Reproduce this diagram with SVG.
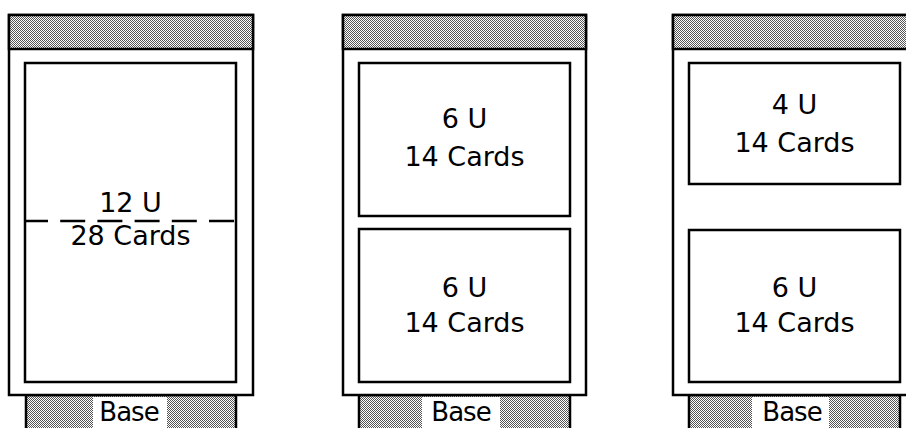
<svg xmlns="http://www.w3.org/2000/svg" width="906" height="428" viewBox="0 0 906 428">
  <defs>
    <!-- fine dither used for the top band and the base feet -->
    <pattern id="dither" width="2" height="2" patternUnits="userSpaceOnUse">
      <rect width="2" height="2" fill="#ffffff"/>
      <rect x="0" y="0" width="1" height="1" fill="#555555"/>
      <rect x="1" y="1" width="1" height="1" fill="#555555"/>
    </pattern>
  </defs>
  <style>
    .frame { fill: #ffffff; stroke: #000000; stroke-width: 2.5; }
    .band { fill: url(#dither); stroke: #000000; stroke-width: 2.5; }
    .slot { fill: #ffffff; stroke: #000000; stroke-width: 2.5; }
    .foot { fill: url(#dither); stroke: #000000; stroke-width: 2.5; }
    .gap { fill: #ffffff; }
    .lbl { font-family: "DejaVu Sans", Verdana, sans-serif; font-size: 27px; fill: #000000; text-anchor: middle; }
    .base { font-family: "DejaVu Sans", Verdana, sans-serif; font-size: 26px; fill: #000000; text-anchor: middle; letter-spacing: -1px; }
    .split { stroke: #000000; stroke-width: 2.5; fill: none; stroke-dasharray: 25 12.2; stroke-dashoffset: 2; }
  </style>

  <!-- Chassis A: one full-height slot -->
  <g id="chassis-a">
    <rect class="foot" x="26" y="395" width="210" height="40"/>
    <rect class="gap" x="93" y="397" width="74" height="31"/>
    <text class="base" x="129" y="421">Base</text>
    <rect class="frame" x="9" y="15" width="244" height="380"/>
    <rect class="band" x="9" y="15" width="244" height="34"/>
    <rect class="slot" x="25" y="63" width="211" height="319"/>
    <line class="split" x1="25" y1="221" x2="236" y2="221"/>
    <text class="lbl" x="130.5" y="212">12 U</text>
    <text class="lbl" x="130.5" y="245">28 Cards</text>
  </g>

  <!-- Chassis B: two equal slots -->
  <g id="chassis-b">
    <rect class="foot" x="359" y="395" width="211" height="40"/>
    <rect class="gap" x="422" y="397" width="78" height="31"/>
    <text class="base" x="461" y="421">Base</text>
    <rect class="frame" x="343" y="15" width="243" height="380"/>
    <rect class="band" x="343" y="15" width="243" height="34"/>
    <rect class="slot" x="359" y="63" width="211" height="153"/>
    <text class="lbl" x="464.5" y="128">6 U</text>
    <text class="lbl" x="464.5" y="166">14 Cards</text>
    <rect class="slot" x="359" y="229" width="211" height="153"/>
    <text class="lbl" x="464.5" y="297">6 U</text>
    <text class="lbl" x="464.5" y="332">14 Cards</text>
  </g>

  <!-- Chassis C: short upper slot, taller lower slot -->
  <g id="chassis-c">
    <rect class="foot" x="689" y="395" width="211" height="40"/>
    <rect class="gap" x="752" y="397" width="77" height="31"/>
    <text class="base" x="792" y="421">Base</text>
    <rect class="frame" x="673" y="15" width="244" height="380"/>
    <rect class="band" x="673" y="15" width="244" height="34"/>
    <rect class="slot" x="689" y="63" width="211" height="121"/>
    <text class="lbl" x="794.5" y="114">4 U</text>
    <text class="lbl" x="794.5" y="152">14 Cards</text>
    <rect class="slot" x="689" y="230" width="211" height="152"/>
    <text class="lbl" x="794.5" y="297">6 U</text>
    <text class="lbl" x="794.5" y="332">14 Cards</text>
  </g>
</svg>
